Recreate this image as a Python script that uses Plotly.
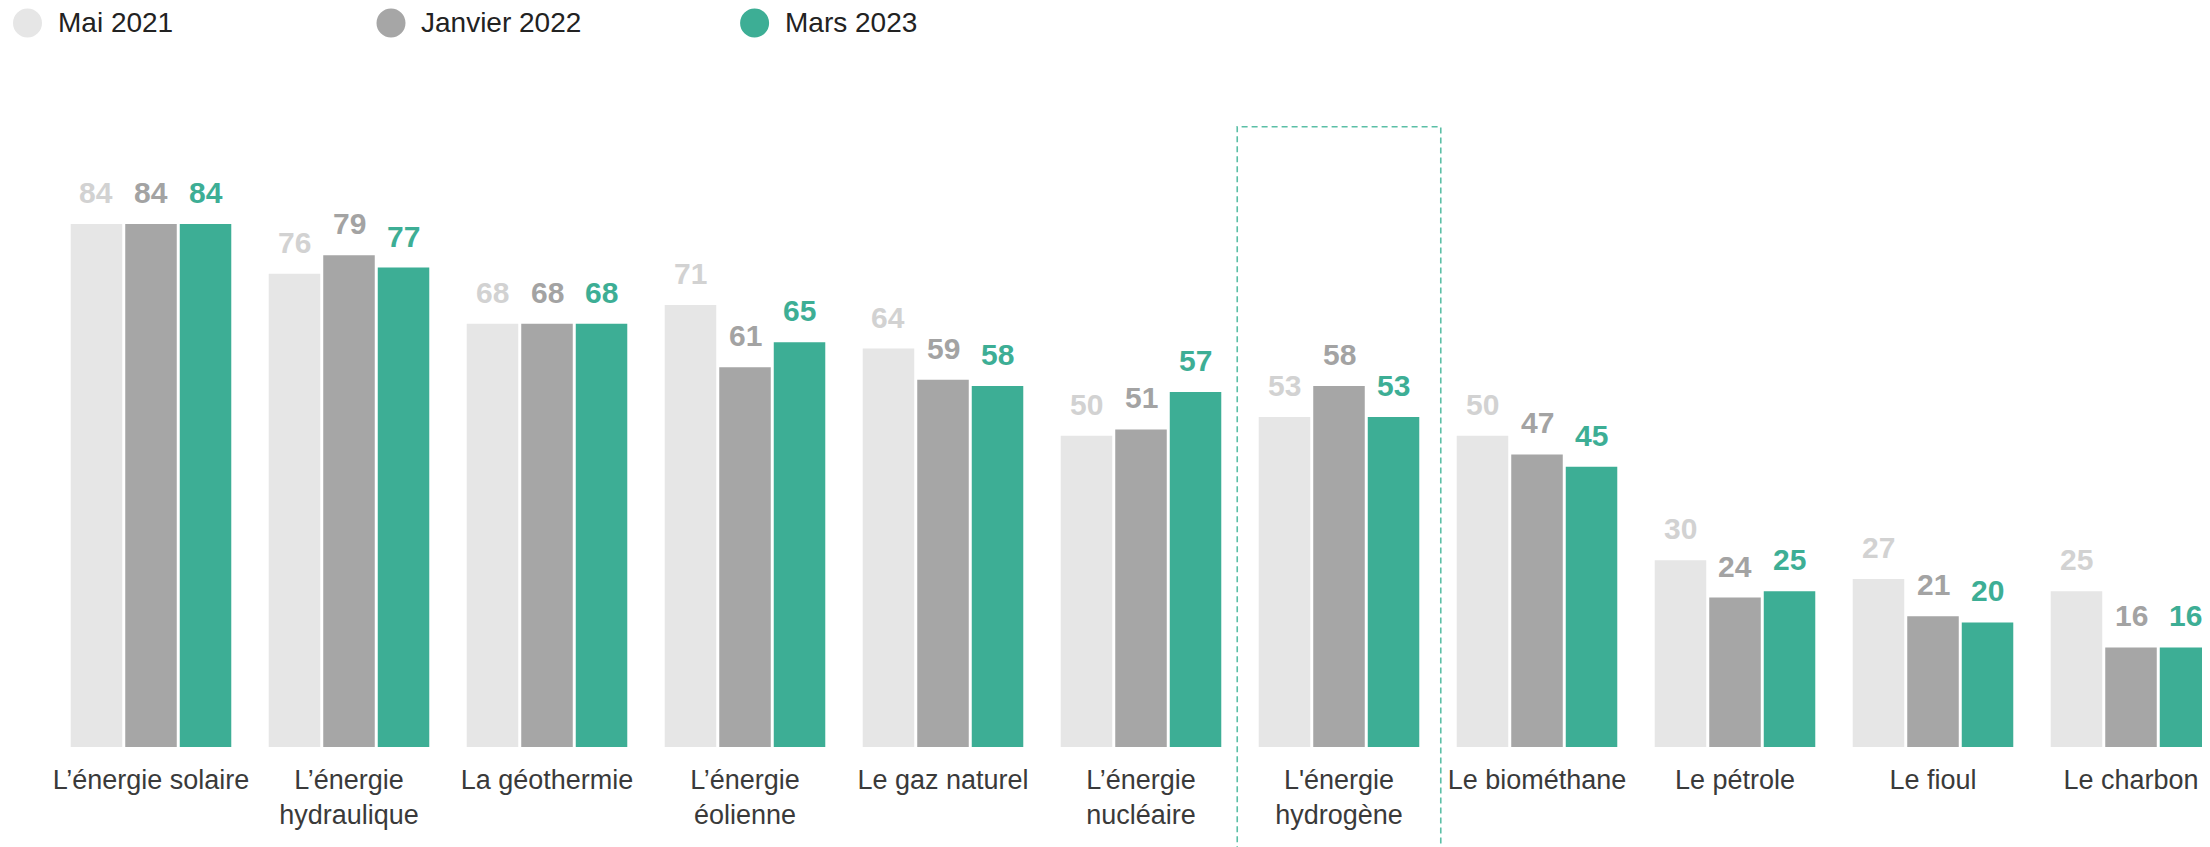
import plotly.graph_objects as go

# ---- data ----
categories = ["L’énergie solaire", "L’énergie<br>hydraulique", "La géothermie",
              "L’énergie<br>éolienne", "Le gaz naturel", "L’énergie<br>nucléaire",
              "L'énergie<br>hydrogène", "Le biométhane", "Le pétrole", "Le fioul",
              "Le charbon"]
series_names = ["Mai 2021", "Janvier 2022", "Mars 2023"]
mai_2021 = [84, 76, 68, 71, 64, 50, 53, 50, 30, 27, 25]
janvier_2022 = [84, 79, 68, 61, 59, 51, 58, 47, 24, 21, 16]
mars_2023 = [84, 77, 68, 65, 58, 57, 53, 45, 25, 20, 16]
highlight_index = 6

# ---- style ----
bar_colors = ["#e6e6e6", "#a6a6a6", "#3dae95"]
label_colors = ["#d2d2d2", "#a3a3a3", "#3dae95"]
OFF = 8  # default page body margin
W, H = 2210 - OFF, 847 - OFF
BASE = 747 - OFF          # baseline in figure px
TOP = 100 - OFF           # plot top in figure px
ML, MR, MT, MB = 0, 0, TOP, H - BASE
PX_PER_UNIT = 6.226
PITCH = 198
BARGAP, BARGROUPGAP = 0.174, 0.055
slot = (1 - BARGAP) / 3

xs = list(range(len(categories)))
fig = go.Figure()
all_series = [mai_2021, janvier_2022, mars_2023]
for name, vals, col in zip(series_names, all_series, bar_colors):
    fig.add_trace(go.Bar(x=xs, y=vals, name=name, marker_color=col,
                         marker_line_width=0, showlegend=False))

annotations = []
for k, (vals, col) in enumerate(zip(all_series, label_colors)):
    for i, v in enumerate(vals):
        annotations.append(dict(x=i + (k - 1) * slot, y=v, xref="x", yref="y",
                                text=f"<b>{v}</b>", showarrow=False,
                                yanchor="bottom", yshift=13,
                                font=dict(family="Liberation Sans, Arial", size=30, color=col)))

plot_h = BASE - TOP
def py_to_paper(page_y):
    return (BASE - (page_y - OFF)) / plot_h

def px_to_paper(page_x):
    return (page_x - OFF) / W

# manual legend
legend_x = [27.5, 391, 754.6]
shapes = []
for name, lx, col in zip(series_names, legend_x, bar_colors):
    shapes.append(dict(type="circle", xref="paper", yref="paper",
                       xsizemode="pixel", ysizemode="pixel",
                       xanchor=px_to_paper(lx), yanchor=py_to_paper(23),
                       x0=-14.5, x1=14.5, y0=-14.5, y1=14.5,
                       fillcolor=col, line_width=0))
    annotations.append(dict(x=px_to_paper(lx + 28), y=py_to_paper(23), xref="paper", yref="paper",
                            text=name, showarrow=False, xanchor="left", yanchor="middle",
                            font=dict(family="Liberation Sans, Arial", size=28, color="#222222")))

# highlight box
shapes.append(dict(type="rect", xref="x", yref="paper",
                   x0=highlight_index - 0.514, x1=highlight_index + 0.514,
                   y0=py_to_paper(860), y1=py_to_paper(126.7),
                   line=dict(color="#5bbfa6", width=1.6, dash="6px,4px"),
                   fillcolor="rgba(0,0,0,0)"))

x0 = -(151 - OFF) / PITCH
fig.update_layout(
    width=W, height=H,
    margin=dict(l=ML, r=MR, t=MT, b=MB),
    barmode="group", bargap=BARGAP, bargroupgap=BARGROUPGAP,
    plot_bgcolor="white", paper_bgcolor="white",
    showlegend=False,
    xaxis=dict(tickmode="array", tickvals=xs, ticktext=categories,
               range=[x0, x0 + W / PITCH], showgrid=False, zeroline=False,
               showline=False, ticks="", ticklabelstandoff=14,
               tickfont=dict(family="Liberation Sans, Arial", size=27, color="#3a3a3a")),
    yaxis=dict(range=[0, plot_h / PX_PER_UNIT], visible=False, showgrid=False),
    annotations=annotations, shapes=shapes,
)

fig.write_html("out.html")
